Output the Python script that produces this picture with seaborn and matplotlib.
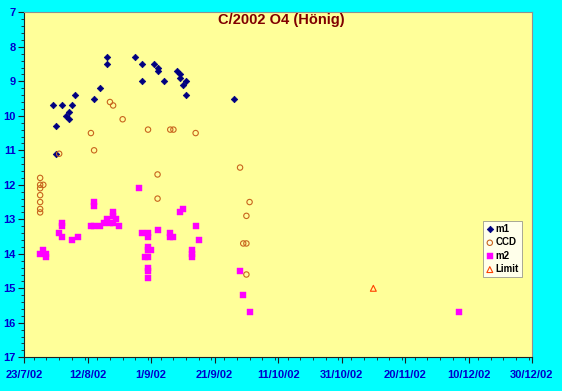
import seaborn as sns
import matplotlib.pyplot as plt
import matplotlib.dates as mdates
from matplotlib.ticker import MultipleLocator, FuncFormatter
import pandas as pd

# visual magnitude estimates
m1_dates = ["2002-08-01", "2002-08-02", "2002-08-02", "2002-08-04", "2002-08-05",
            "2002-08-06", "2002-08-06", "2002-08-07", "2002-08-08", "2002-08-14",
            "2002-08-16", "2002-08-18", "2002-08-18", "2002-08-27", "2002-08-29",
            "2002-08-29", "2002-09-02", "2002-09-03", "2002-09-03", "2002-09-05",
            "2002-09-09", "2002-09-10", "2002-09-10", "2002-09-11", "2002-09-12",
            "2002-09-12", "2002-09-27"]
m1_mag = [9.7, 10.3, 11.1, 9.7, 10.0, 9.9, 10.1, 9.7, 9.4, 9.5,
          9.2, 8.3, 8.5, 8.3, 8.5, 9.0, 8.5, 8.6, 8.7, 9.0,
          8.7, 8.8, 8.9, 9.1, 9.0, 9.4, 9.5]

ccd_dates = ["2002-07-28", "2002-07-28", "2002-07-29", "2002-07-28", "2002-07-28",
             "2002-07-28", "2002-07-28", "2002-07-28", "2002-08-03", "2002-08-13",
             "2002-08-14", "2002-08-19", "2002-08-20", "2002-08-23", "2002-08-31",
             "2002-09-03", "2002-09-03", "2002-09-07", "2002-09-08", "2002-09-15",
             "2002-09-29", "2002-09-30", "2002-10-01", "2002-10-01", "2002-10-01",
             "2002-10-02"]
ccd_mag = [11.8, 12.0, 12.0, 12.1, 12.3, 12.5, 12.7, 12.8, 11.1, 10.5,
           11.0, 9.6, 9.7, 10.1, 10.4, 11.7, 12.4, 10.4, 10.4, 10.5,
           11.5, 13.7, 13.7, 12.9, 14.6, 12.5]

m2_dates = ["2002-07-28", "2002-07-29", "2002-07-30", "2002-07-30", "2002-08-03",
            "2002-08-04", "2002-08-04", "2002-08-04", "2002-08-07", "2002-08-09",
            "2002-08-13", "2002-08-14", "2002-08-14", "2002-08-14", "2002-08-16",
            "2002-08-17", "2002-08-18", "2002-08-19", "2002-08-20", "2002-08-20",
            "2002-08-20", "2002-08-21", "2002-08-22", "2002-08-28", "2002-08-29",
            "2002-08-30", "2002-08-31", "2002-08-31", "2002-08-31", "2002-08-31",
            "2002-08-31", "2002-08-31", "2002-08-31", "2002-08-31", "2002-09-01",
            "2002-09-03", "2002-09-07", "2002-09-07", "2002-09-08", "2002-09-10",
            "2002-09-11", "2002-09-14", "2002-09-14", "2002-09-14", "2002-09-15",
            "2002-09-16", "2002-09-29", "2002-09-30", "2002-10-02", "2002-12-07"]
m2_mag = [14.0, 13.9, 14.0, 14.1, 13.4, 13.1, 13.2, 13.5, 13.6, 13.5,
          13.2, 12.5, 12.6, 13.2, 13.2, 13.1, 13.0, 13.1, 12.8, 12.9,
          13.1, 13.0, 13.2, 12.1, 13.4, 14.1, 13.4, 13.5, 13.8, 13.9,
          14.1, 14.4, 14.5, 14.7, 13.9, 13.3, 13.4, 13.5, 13.5, 12.8,
          12.7, 13.9, 14.0, 14.1, 13.2, 13.6, 14.5, 15.2, 15.7, 15.7]

limit_dates = ["2002-11-10"]
limit_mag = [15.0]

tick_dates = pd.date_range("2002-07-23", "2002-12-30", freq="20D")

sns.set_theme(style="ticks")
plt.rcParams["font.family"] = ["Liberation Sans", "DejaVu Sans"]

fig = plt.figure(figsize=(5.62, 3.91), dpi=100, facecolor="#00ffff")
ax = fig.add_axes([0.0432, 0.0862, 0.9034, 0.8823])
ax.set_facecolor("#ffff99")

sns.scatterplot(x=pd.to_datetime(m1_dates), y=m1_mag, ax=ax, marker="D", s=11,
                color="#000080", edgecolor="#000080", linewidth=0.5, label="m1")
sns.scatterplot(x=pd.to_datetime(ccd_dates), y=ccd_mag, ax=ax, marker="o", s=15,
                fc="none", ec="#c8641e", linewidth=0.8, label="CCD")
sns.scatterplot(x=pd.to_datetime(m2_dates), y=m2_mag, ax=ax, marker="s", s=13,
                color="#ff00ff", edgecolor="#ff00ff", linewidth=0.3, label="m2")
sns.scatterplot(x=pd.to_datetime(limit_dates), y=limit_mag, ax=ax, marker="^", s=18,
                fc="none", ec="#ff4000", linewidth=0.8, label="Limit")

ax.set_xlim(tick_dates[0], tick_dates[-1])
ax.set_ylim(17, 7)
ax.set_xticks(tick_dates)
ax.xaxis.set_minor_locator(mdates.DayLocator(interval=4))
ax.xaxis.set_major_formatter(FuncFormatter(
    lambda v, p: "{}/{}/{}".format(mdates.num2date(v).day, mdates.num2date(v).month,
                                   mdates.num2date(v).strftime("%y"))))
ax.yaxis.set_major_locator(MultipleLocator(1))
ax.yaxis.set_minor_locator(MultipleLocator(0.2))
ax.set_xlabel("")
ax.set_ylabel("")

ax.tick_params(axis="both", which="major", direction="out", length=4, width=0.8,
               colors="#202020", labelcolor="#0000cc", labelsize=8)
ax.tick_params(axis="both", which="minor", direction="out", length=2, width=0.6,
               colors="#202020")
ax.tick_params(axis="y", which="major", pad=2)
ax.tick_params(axis="x", which="major", pad=5)
for lab in ax.get_xticklabels() + ax.get_yticklabels():
    lab.set_fontweight("bold")

for side in ["left", "bottom"]:
    ax.spines[side].set_color("#202020")
    ax.spines[side].set_linewidth(0.8)
for side in ["top", "right"]:
    ax.spines[side].set_color("#909090")
    ax.spines[side].set_linewidth(0.8)

fig.text(0.5, 0.948, "C/2002 O4 (Hönig)", ha="center", va="center",
         color="#800000", fontsize=10.5, fontweight="bold")

leg = ax.legend(loc="upper left", bbox_to_anchor=(483 / 562, 1 - 221 / 391),
                bbox_transform=fig.transFigure, frameon=True, fancybox=False,
                fontsize=7, handletextpad=0.2, handlelength=0.8, borderpad=0.3,
                labelspacing=0.35, borderaxespad=0, markerscale=1.0)
leg.get_frame().set_edgecolor("#808080")
leg.get_frame().set_linewidth(0.6)
leg.get_frame().set_facecolor("white")
for t in leg.get_texts():
    t.set_fontweight("bold")
    t.set_color("black")

plt.savefig("out.png", dpi=100, facecolor=fig.get_facecolor())
